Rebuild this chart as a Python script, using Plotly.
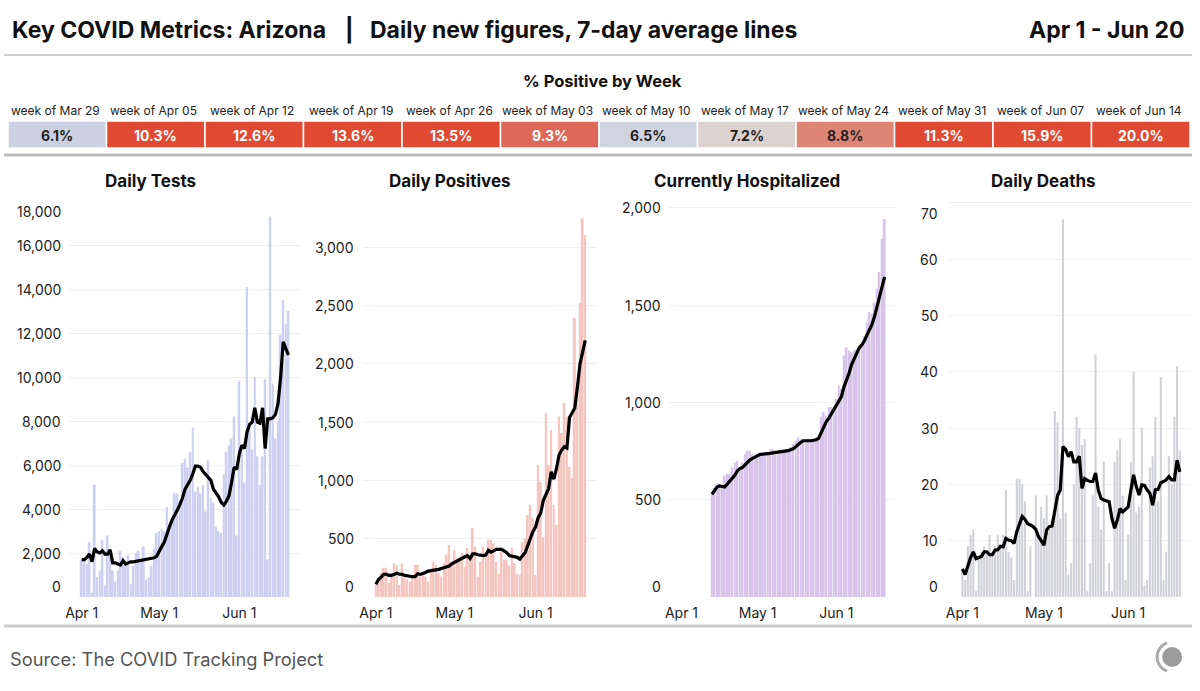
import math
import pandas as pd
import plotly.graph_objects as go

W, H = 1200, 691

# ---------------- DATA ----------------
dates = pd.date_range("2020-04-01", "2020-06-20", freq="D")
hosp_dates = pd.date_range("2020-04-13", "2020-06-20", freq="D")

tests = [1700, 1750, 1500, 2500, 200, 5100, 900, 1200, 2600, 500,
         2800, 2000, 1200, 700, 1200, 2100, 1800, 1600, 1900, 600,
         1400, 2000, 2100, 1700, 2300, 800, 900, 1400, 2200, 2900,
         3000, 3100, 3000, 4100, 3300, 3400, 4700, 4700, 4400, 6100,
         6300, 5900, 6600, 7700, 4800, 5000, 4700, 5100, 3900, 6200,
         4500, 4300, 3200, 3000, 2900, 5600, 6600, 6900, 7200, 8200,
         2800, 9800, 6600, 5200, 14100, 7800, 6700, 10000, 6400, 5100,
         6400, 9900, 1700, 17300, 9700, 7200, 8000, 11900, 13500, 12400,
         13000]
tests_avg = [1700, 1700, 1800, 1950, 1600, 2200, 2050, 2000, 2100, 1950,
             1950, 2150, 1550, 1550, 1500, 1450, 1650, 1500, 1550, 1600,
             1600, 1620, 1640, 1650, 1680, 1700, 1720, 1750, 1780, 1850,
             2100, 2300, 2500, 2900, 3200, 3500, 3700, 3950, 4200, 4500,
             4900, 5100, 5300, 5600, 5950, 5950, 5900, 5700, 5550, 5400,
             5300, 4900, 4750, 4550, 4300, 4180, 4350, 4600, 5200, 5900,
             5800, 6500, 6900, 6750, 7500, 7850, 7950, 8600, 7950, 7900,
             8600, 6750, 8100, 8100, 8150, 8300, 8800, 10000, 11600, 11300,
             11000]

positives = [131, 160, 206, 250, 250, 120, 206, 290, 275, 105,
             290, 160, 150, 131, 175, 275, 275, 175, 206, 175,
             131, 230, 303, 275, 206, 175, 290, 367, 446, 300,
             400, 330, 330, 375, 260, 420, 360, 590, 430, 174,
             300, 430, 350, 490, 490, 460, 300, 200, 390, 320,
             320, 270, 420, 290, 200, 190, 470, 500, 703, 789,
             677, 189, 1132, 989, 517, 1578, 1132, 1432, 789, 617,
             1547, 1406, 1664, 1547, 1117, 1020, 2393, 1835, 2521, 3250,
             3105]
positives_avg = [110, 150, 170, 195, 195, 185, 185, 195, 203, 195,
                 195, 185, 180, 175, 174, 175, 200, 195, 200, 210,
                 222, 225, 230, 233, 237, 245, 252, 260, 266, 285,
                 298, 305, 320, 331, 345, 354, 330, 370, 370, 362,
                 358, 355, 360, 400, 385, 395, 408, 409, 408, 395,
                 380, 355, 350, 350, 340, 325, 355, 380, 440, 500,
                 560, 600, 680, 720, 830, 880, 930, 1075, 1010, 1100,
                 1218, 1260, 1289, 1278, 1540, 1580, 1620, 1800, 2000, 2100,
                 2200]

hospitalized = [528, 560, 585, 580, 575, 623, 632, 632, 665, 690,
                700, 665, 690, 734, 752, 752, 734, 725, 734, 734,
                743, 743, 743, 760, 760, 734, 734, 743, 752, 760,
                760, 769, 786, 803, 820, 812, 812, 812, 812, 803,
                812, 820, 820, 924, 950, 933, 976, 976, 976, 1018,
                1087, 1070, 1241, 1284, 1267, 1258, 1267, 1275, 1292, 1292,
                1343, 1412, 1464, 1455, 1515, 1584, 1670, 1841, 1943]
hospitalized_avg = [528, 550, 565, 571, 568, 565, 580, 595, 608, 625,
                    648, 660, 665, 680, 695, 705, 712, 720, 727, 733,
                    734, 734, 734, 738, 741, 743, 742, 743, 746, 750,
                    752, 757, 762, 772, 786, 795, 803, 805, 803, 803,
                    804, 808, 815, 846, 875, 900, 918, 940, 963, 990,
                    1010, 1030, 1080, 1110, 1150, 1195, 1225, 1258, 1280, 1295,
                    1315, 1345, 1370, 1400, 1440, 1490, 1545, 1600, 1645]

deaths = [5, 3, 9, 11, 12, 1, 7, 8, 9, 8,
          11, 8, 9, 11, 9, 11, 19, 8, 7, 3,
          21, 21, 20, 17, 1, 9, 0, 18, 11, 16,
          14, 18, 12, 14, 33, 31, 14, 67, 15, 4,
          6, 20, 32, 30, 27, 28, 1, 6, 18, 43,
          16, 12, 24, 1, 6, 1, 24, 26, 28, 18,
          3, 11, 24, 40, 15, 16, 30, 2, 3, 23,
          25, 32, 17, 39, 3, 8, 25, 20, 32, 41,
          26]
deaths_avg = [5, 4, 5.5, 7, 8, 6.8, 7, 7.2, 8, 8,
              7.5, 7.5, 8.3, 8.4, 9, 8.9, 10.4, 10.1, 10, 9.5,
              11.6, 13, 14.3, 13.8, 13, 12.8, 12.5, 12, 10.7, 10,
              9.2, 11.9, 12.5, 12.6, 15, 18, 19, 26.7, 26.2, 24.9,
              25.8, 24, 24, 25, 19.3, 21, 20.7, 20.5, 20.5, 22,
              19, 17.5, 17.2, 17.1, 16.9, 14, 12.2, 13.6, 15.7, 15.1,
              15.5, 16, 19, 21.7, 19.6, 18.1, 19.9, 19.8, 19, 18.4,
              16.3, 19, 19.1, 20.3, 20.5, 20.8, 21.4, 20.8, 20.8, 24.3,
              22.2]

week_labels = ["week of Mar 29", "week of Apr 05", "week of Apr 12", "week of Apr 19",
               "week of Apr 26", "week of May 03", "week of May 10", "week of May 17",
               "week of May 24", "week of May 31", "week of Jun 07", "week of Jun 14"]
week_pct = [6.1, 10.3, 12.6, 13.6, 13.5, 9.3, 6.5, 7.2, 8.8, 11.3, 15.9, 20.0]

panel_titles = ["Daily Tests", "Daily Positives", "Currently Hospitalized", "Daily Deaths"]
x_tick_dates = ["2020-04-01", "2020-05-01", "2020-06-01"]
x_tick_labels = ["Apr 1", "May 1", "Jun 1"]
tests_ticks = [0, 2000, 4000, 6000, 8000, 10000, 12000, 14000, 16000, 18000]
positives_ticks = [0, 500, 1000, 1500, 2000, 2500, 3000]
hosp_ticks = [0, 500, 1000, 1500, 2000]
deaths_ticks = [0, 10, 20, 30, 40, 50, 60, 70]

# ---------------- STYLE ----------------
FONT = "Inter"
box_colors = ["#cbd1e3", "#e04a33", "#e04a33", "#e04a33", "#e04a33", "#dd6857",
              "#cfd4e0", "#dcd3d1", "#de8576", "#e04a33", "#e04a33", "#e04a33"]
box_text_colors = ["#222", "white", "white", "white", "white", "white",
                   "#222", "#222", "#222", "white", "white", "white"]


def px(x):
    return x / W


def py(y):
    return 1 - y / H


panels = [
    dict(d=dates, v=tests, a=tests_avg, ticks=tests_ticks, left=65, right=297,
         ymax=18000, bar="#cdd0f0", lab_r=59, tx=147, top_anchor="top"),
    dict(d=dates, v=positives, a=positives_avg, ticks=positives_ticks, left=360, right=595,
         ymax=3396, bar="#f4c6c0", lab_r=353, tx=447, top_anchor="middle"),
    dict(d=hosp_dates, v=hospitalized, a=hospitalized_avg, ticks=hosp_ticks, left=667, right=895,
         ymax=2035, bar="#d8c4ea", lab_r=661, tx=745, top_anchor="middle"),
    dict(d=dates, v=deaths, a=deaths_avg, ticks=deaths_ticks, left=948, right=1192,
         ymax=70.3, bar="#d0d1d7", lab_r=939, tx=1043, top_anchor="top"),
]

fig = go.Figure()
layout = {}
annotations = []
shapes = []

for i, (p, title) in enumerate(zip(panels, panel_titles)):
    n = "" if i == 0 else str(i + 1)
    fig.add_trace(go.Bar(x=p["d"], y=p["v"], marker=dict(color=p["bar"], line=dict(width=0)),
                         xaxis="x" + n, yaxis="y" + n, hoverinfo="skip", showlegend=False))
    fig.add_trace(go.Scatter(x=p["d"], y=p["a"], mode="lines",
                             line=dict(color="black", width=3.2),
                             xaxis="x" + n, yaxis="y" + n, hoverinfo="skip", showlegend=False))
    layout["xaxis" + n] = dict(domain=[px(p["left"]), px(p["right"])],
                               range=["2020-03-27", "2020-06-24 12:00"],
                               tickvals=x_tick_dates, ticktext=x_tick_labels,
                               showgrid=False, zeroline=False, showline=False, ticks="",
                               ticklabelstandoff=6,
                               tickfont=dict(family=FONT, size=14, color="#222"),
                               anchor="y" + n, fixedrange=True)
    layout["yaxis" + n] = dict(domain=[py(597), py(201)], range=[0, p["ymax"]],
                               tickvals=p["ticks"], showticklabels=False,
                               gridcolor="#f0f0f0", gridwidth=1, zeroline=False,
                               showline=False, anchor="x" + n, fixedrange=True)
    for j, t in enumerate(p["ticks"]):
        if j == 0:
            ya = "bottom"
        elif j == len(p["ticks"]) - 1:
            ya = p["top_anchor"]
        else:
            ya = "middle"
        annotations.append(dict(x=px(p["lab_r"]), xref="paper", y=t, yref="y" + n,
                                text=f"{t:,}", showarrow=False, xanchor="right", yanchor=ya,
                                font=dict(family=FONT, size=14, color="#222")))
    annotations.append(dict(x=px(p["tx"]), y=py(181), xref="paper", yref="paper",
                            text=title, showarrow=False, xanchor="center", yanchor="middle",
                            font=dict(family=FONT, size=17, color="#111", weight=700)))

# header
annotations += [
    dict(x=px(6), y=py(30), text="Key COVID Metrics: Arizona", xanchor="left"),
    dict(x=px(347), y=py(30), text="|", xanchor="center"),
    dict(x=px(365), y=py(30), text="Daily new figures, 7-day average lines", xanchor="left"),
    dict(x=px(1187), y=py(30), text="Apr 1 - Jun 20", xanchor="right"),
]
for a in annotations[-4:]:
    a.update(xref="paper", yref="paper", showarrow=False, yanchor="middle",
             font=dict(family=FONT, size=23, color="#111", weight=700))

annotations.append(dict(x=0.5, y=py(81), xref="paper", yref="paper", text="% Positive by Week",
                        showarrow=False, xanchor="center", yanchor="middle",
                        font=dict(family=FONT, size=16.5, color="#111", weight=700)))

bw = (1190 - 4) / len(week_pct)
for i, (lab, pct) in enumerate(zip(week_labels, week_pct)):
    x0 = 4 + i * bw
    x1 = x0 + bw
    cx = (x0 + x1) / 2
    shapes.append(dict(type="rect", xref="paper", yref="paper", x0=px(x0), x1=px(x1),
                       y0=py(148), y1=py(121), fillcolor=box_colors[i],
                       line=dict(color="white", width=1.5), layer="below"))
    annotations.append(dict(x=px(cx - 2), y=py(110), xref="paper", yref="paper", text=lab,
                            showarrow=False, xanchor="center", yanchor="middle",
                            font=dict(family=FONT, size=12, color="#222")))
    annotations.append(dict(x=px(cx), y=py(135), xref="paper", yref="paper", text=f"{pct:.1f}%",
                            showarrow=False, xanchor="center", yanchor="middle",
                            font=dict(family=FONT, size=14, color=box_text_colors[i], weight=700)))

# separator lines
for yy, col, wd in [(55, "#cccccc", 2), (155, "#bbbbbb", 3), (626, "#cccccc", 3)]:
    shapes.append(dict(type="line", xref="paper", yref="paper", x0=0, x1=px(1192),
                       y0=py(yy), y1=py(yy), line=dict(color=col, width=wd)))

# footer
annotations.append(dict(x=px(4), y=py(659), xref="paper", yref="paper",
                        text="Source: The COVID Tracking Project", showarrow=False,
                        xanchor="left", yanchor="middle",
                        font=dict(family=FONT, size=18.3, color="#555")))

# logo
cx, cy, r = 1172, 657, 10
shapes.append(dict(type="circle", xref="paper", yref="paper", x0=px(cx - r), x1=px(cx + r),
                   y0=py(cy + r), y1=py(cy - r), fillcolor="#9b9b9b", line=dict(width=0)))
pts = []
for k in range(25):
    ang = math.radians(110 + k * 140 / 24)
    pts.append((cx + 15 * math.cos(ang), cy - 15 * math.sin(ang)))
path = "M " + " L ".join(f"{px(x):.5f},{py(y):.5f}" for x, y in pts)
shapes.append(dict(type="path", xref="paper", yref="paper", path=path,
                   line=dict(color="#aaaaaa", width=3)))

fig.update_layout(**layout)
fig.update_layout(width=W, height=H, margin=dict(l=0, r=0, t=0, b=0),
                  paper_bgcolor="white", plot_bgcolor="white", bargap=0.25,
                  showlegend=False, annotations=annotations, shapes=shapes,
                  font=dict(family=FONT))

fig.write_html("out.html", config={"displayModeBar": False},
               post_script="document.body.style.margin='0px';document.body.style.padding='0px';")
